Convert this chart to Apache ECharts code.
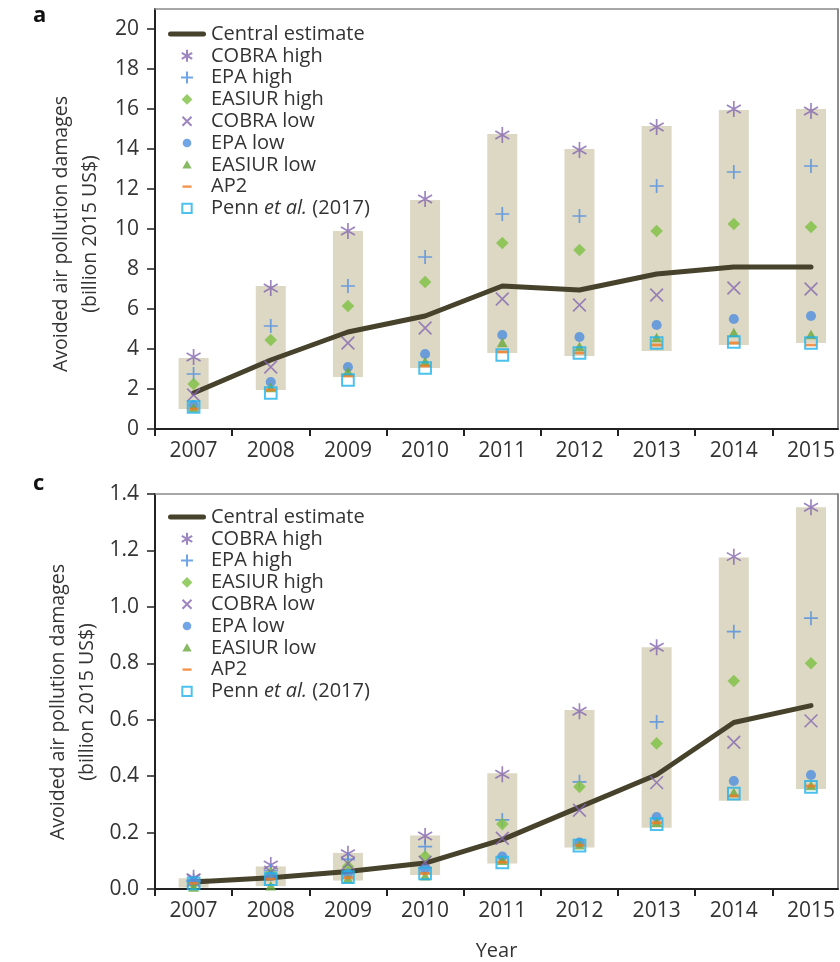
<!DOCTYPE html>
<html><head><meta charset="utf-8">
<script src="https://cdn.jsdelivr.net/npm/echarts@6/dist/echarts.min.js"></script>
<style>html,body{margin:0;padding:0;background:#fff}#c{width:840px;height:962px}</style>
</head><body><div id="c"></div>
<script>
// ---------- data ----------
const years = [2007, 2008, 2009, 2010, 2011, 2012, 2013, 2014, 2015];
const xTickValues = [2006.5, 2007.5, 2008.5, 2009.5, 2010.5, 2011.5, 2012.5, 2013.5, 2014.5];
const yTicksA = [0, 2, 4, 6, 8, 10, 12, 14, 16, 18, 20];
const yTicksC = [0, 0.2, 0.4, 0.6, 0.8, 1.0, 1.2, 1.4];

// panel a
const centralA   = [1.8, 3.45, 4.85, 5.65, 7.15, 6.95, 7.75, 8.1, 8.1];
const cobraHighA = [3.6, 7.05, 9.9, 11.5, 14.7, 13.95, 15.1, 16.0, 15.9];
const epaHighA   = [2.75, 5.15, 7.15, 8.6, 10.75, 10.65, 12.15, 12.85, 13.15];
const easiurHighA= [2.25, 4.45, 6.15, 7.35, 9.3, 8.95, 9.9, 10.25, 10.1];
const cobraLowA  = [1.7, 3.1, 4.3, 5.05, 6.5, 6.2, 6.7, 7.05, 7.0];
const epaLowA    = [1.2, 2.35, 3.1, 3.75, 4.7, 4.6, 5.2, 5.5, 5.65];
const easiurLowA = [1.05, 2.05, 2.85, 3.35, 4.3, 4.1, 4.55, 4.8, 4.7];
const ap2A       = [1.0, 1.95, 2.65, 3.15, 3.85, 3.8, 4.2, 4.3, 4.2];
const pennA      = [1.1, 1.8, 2.45, 3.05, 3.7, 3.8, 4.3, 4.35, 4.3];
const barLowA    = [1.0, 1.95, 2.6, 3.05, 3.8, 3.65, 3.9, 4.2, 4.3];
const barHighA   = [3.55, 7.15, 9.9, 11.45, 14.75, 14.0, 15.15, 15.95, 16.0];

// panel c
const centralC   = [0.025, 0.04, 0.062, 0.092, 0.175, 0.29, 0.405, 0.59, 0.65];
const cobraHighC = [0.04, 0.085, 0.125, 0.188, 0.407, 0.63, 0.857, 1.178, 1.353];
const epaHighC   = [0.03, 0.065, 0.105, 0.15, 0.245, 0.38, 0.592, 0.912, 0.96];
const easiurHighC= [0.02, 0.055, 0.08, 0.115, 0.23, 0.362, 0.516, 0.737, 0.80];
const cobraLowC  = [0.03, 0.06, 0.09, 0.095, 0.18, 0.279, 0.377, 0.52, 0.596];
const epaLowC    = [0.025, 0.045, 0.055, 0.07, 0.115, 0.165, 0.255, 0.383, 0.404];
const easiurLowC = [0.005, 0.01, 0.035, 0.045, 0.1, 0.155, 0.235, 0.34, 0.365];
const ap2C       = [0.02, 0.035, 0.04, 0.055, 0.095, 0.155, 0.235, 0.33, 0.365];
const pennC      = [0.02, 0.035, 0.042, 0.055, 0.094, 0.154, 0.23, 0.338, 0.362];
const barLowC    = [0.005, 0.01, 0.03, 0.05, 0.09, 0.147, 0.217, 0.313, 0.354];
const barHighC   = [0.038, 0.08, 0.128, 0.19, 0.41, 0.634, 0.857, 1.175, 1.353];

const seriesNames = ['Central estimate', 'COBRA high', 'EPA high', 'EASIUR high', 'COBRA low',
  'EPA low', 'EASIUR low', 'AP2', 'Penn et al. (2017)'];
const yTitle = 'Avoided air pollution damages\n(billion 2015 US$)';

// ---------- styles ----------
const FONT = 'Open Sans';
const TXT = '#333';
const SYM = {
  asterisk: 'path://M0,-1L0,1M-0.87,-0.5L0.87,0.5M-0.87,0.5L0.87,-0.5',
  plus: 'path://M0,-1L0,1M-1,0L1,0',
  cross: 'path://M-0.75,-0.75L0.75,0.75M-0.75,0.75L0.75,-0.75M-1,-1M1,1',
  diamond: 'path://M0,-0.9L0.9,0L0,0.9L-0.9,0ZM-1,-1M1,1',
  circle: 'path://M-0.72,0A0.72,0.72,0,1,1,0.72,0A0.72,0.72,0,1,1,-0.72,0ZM-1,-1M1,1',
  triangle: 'path://M0,-0.75L0.78,0.6L-0.78,0.6ZM-1,-1M1,1',
  dash: 'path://M-0.75,-0.2L0.75,-0.2L0.75,0.2L-0.75,0.2ZM-1,-1M1,1',
  square: 'path://M-0.78,-0.78L0.78,-0.78L0.78,0.78L-0.78,0.78ZM-1,-1M1,1',
  lineIcon: 'path://M2.5,0L35.5,0A2.5,2.5,0,0,1,35.5,5L2.5,5A2.5,2.5,0,0,1,2.5,0Z'
};
const COL = {
  line: '#46422b', bar: '#dcd8c3', cobra: '#8466b0', epa: '#4f8fe0', easiur: '#7dc142',
  easiurLow: '#6aa83c', ap2: '#f07a22', penn: '#1fb2ea'
};

function pts(arr) { return years.map((y, i) => [y, arr[i]]); }

function panelSeries(p, d) {
  const ax = { xAxisIndex: p * 2, yAxisIndex: p * 2 };
  const stroke = (c, w) => ({ color: c, borderColor: c, borderWidth: w });
  const fill = c => ({ color: c, borderWidth: 0 });
  const sc = (name, data, sym, size, style) => Object.assign({
    type: 'scatter', name, data: pts(data), symbol: sym, symbolSize: size,
    symbolKeepAspect: true, itemStyle: style, z: 4, silent: true
  }, ax);
  return [
    Object.assign({
      type: 'custom', name: 'range', z: 1, silent: true,
      data: years.map((y, i) => [y, d.lo[i], d.hi[i]]),
      encode: { x: 0, y: [1, 2] },
      renderItem: (params, api) => {
        const top = api.coord([api.value(0), api.value(2)]);
        const bot = api.coord([api.value(0), api.value(1)]);
        const w = 30;
        return { type: 'rect', shape: { x: top[0] - w / 2, y: top[1], width: w, height: bot[1] - top[1] },
                 style: { fill: COL.bar } };
      }
    }, ax),
    Object.assign({
      type: 'line', name: 'Central estimate', data: pts(d.central), symbol: 'none', z: 3, silent: true,
      lineStyle: { color: COL.line, width: 5, cap: 'round', join: 'round' }, itemStyle: { color: COL.line }
    }, ax),
    sc('COBRA high', d.cobraHigh, SYM.asterisk, 16, stroke(COL.cobra, 1.7)),
    sc('EPA high', d.epaHigh, SYM.plus, 14, stroke(COL.epa, 1.7)),
    sc('EASIUR high', d.easiurHigh, SYM.diamond, 14, fill(COL.easiur)),
    sc('COBRA low', d.cobraLow, SYM.cross, 17, stroke(COL.cobra, 1.6)),
    sc('EPA low', d.epaLow, SYM.circle, 14, fill(COL.epa)),
    sc('EASIUR low', d.easiurLow, SYM.triangle, 14, fill(COL.easiurLow)),
    sc('AP2', d.ap2, SYM.dash, 14, fill(COL.ap2)),
    sc('Penn et al. (2017)', d.penn, SYM.square, 15,
       { color: 'rgba(255,255,255,0)', borderColor: COL.penn, borderWidth: 2 })
  ];
}

function xAxes(grid, withName) {
  return [{
    gridIndex: grid, type: 'value', min: 2006.5, max: 2015.35, position: 'bottom',
    axisLine: { show: true, onZero: false, lineStyle: { color: '#222', width: 2 } },
    axisTick: { show: true, customValues: xTickValues, length: 7, lineStyle: { color: '#222', width: 2 } },
    axisLabel: { customValues: years, margin: 12, fontSize: 21, color: TXT, fontFamily: FONT,
                 formatter: v => String(Math.round(v)) },
    splitLine: { show: false },
    name: withName ? 'Year' : '', nameLocation: 'middle', nameGap: 52,
    nameTextStyle: { fontSize: 20, color: TXT, fontFamily: FONT }
  }, {
    gridIndex: grid, type: 'value', min: 2006.5, max: 2015.35, position: 'top',
    axisLine: { show: true, onZero: false, lineStyle: { color: '#8a8a8a', width: 1.5 } },
    axisTick: { show: false }, axisLabel: { show: false }, splitLine: { show: false }
  }];
}

function yAxes(grid, max, ticks, fmt) {
  return [{
    gridIndex: grid, type: 'value', min: 0, max: max, position: 'left',
    axisLine: { show: true, onZero: false, lineStyle: { color: '#222', width: 2 } },
    axisTick: { show: true, customValues: ticks, length: 8, lineStyle: { color: '#222', width: 1.5 } },
    axisLabel: { customValues: ticks, margin: 16, fontSize: 21, color: TXT, fontFamily: FONT, formatter: fmt },
    splitLine: { show: false }
  }, {
    gridIndex: grid, type: 'value', min: 0, max: max, position: 'right',
    axisLine: { show: true, onZero: false, lineStyle: { color: '#666', width: 1.5 } },
    axisTick: { show: false }, axisLabel: { show: false }, splitLine: { show: false }
  }];
}

function legend(top) {
  return {
    orient: 'vertical', left: 163, top: top, itemWidth: 38, itemHeight: 12, itemGap: 1.8,
    selectedMode: false,
    data: seriesNames.map(n => n === 'Central estimate' ? { name: n, icon: SYM.lineIcon } : n),
    textStyle: { fontSize: 20, lineHeight: 20, color: TXT, fontFamily: FONT,
      rich: { i: { fontSize: 20, fontStyle: 'italic', color: TXT, fontFamily: FONT, lineHeight: 20 },
              n: { fontSize: 20, color: TXT, fontFamily: FONT, lineHeight: 20 } } },
    formatter: name => name === 'Penn et al. (2017)' ? '{n|Penn }{i|et al.}{n| (2017)}' : name
  };
}

function yTitleText(x, y) {
  return { type: 'text', x: x, y: y, rotation: Math.PI / 2, silent: true,
    style: { text: yTitle, align: 'center', verticalAlign: 'middle', lineHeight: 29,
             font: '19.5px "Open Sans"', fill: TXT } };
}

const dataA = { central: centralA, cobraHigh: cobraHighA, epaHigh: epaHighA, easiurHigh: easiurHighA,
  cobraLow: cobraLowA, epaLow: epaLowA, easiurLow: easiurLowA, ap2: ap2A, penn: pennA, lo: barLowA, hi: barHighA };
const dataC = { central: centralC, cobraHigh: cobraHighC, epaHigh: epaHighC, easiurHigh: easiurHighC,
  cobraLow: cobraLowC, epaLow: epaLowC, easiurLow: easiurLowC, ap2: ap2C, penn: pennC, lo: barLowC, hi: barHighC };

const chart = echarts.init(document.getElementById('c'));
chart.setOption({
  animation: false,
  backgroundColor: '#fff',
  grid: [
    { left: 155, right: 2, top: 9, height: 420 },
    { left: 155, right: 2, top: 494, height: 402 }
  ],
  xAxis: [...xAxes(0, false), ...xAxes(1, true)],
  yAxis: [...yAxes(0, 21, yTicksA, v => String(v)), ...yAxes(1, 1.4, yTicksC, v => v.toFixed(1))],
  legend: [legend(19), legend(502)],
  graphic: [
    { type: 'text', left: 33, top: 5, style: { text: 'a', font: 'bold 22px "Open Sans"', fill: '#111' } },
    { type: 'text', left: 33, top: 473, style: { text: 'c', font: 'bold 22px "Open Sans"', fill: '#111' } },
    yTitleText(76, 234),
    yTitleText(73, 702)
  ],
  series: [...panelSeries(0, dataA), ...panelSeries(1, dataC)]
});
</script>
</body></html>
